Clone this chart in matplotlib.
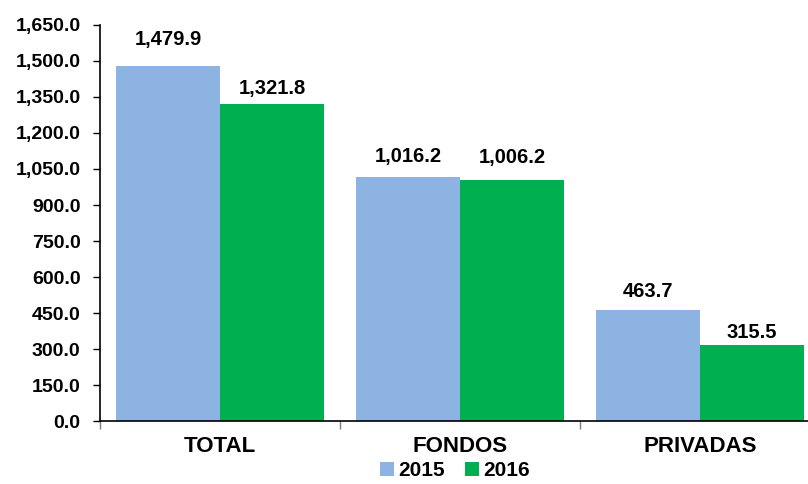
import matplotlib

matplotlib.use("Agg")
import matplotlib.pyplot as plt
from matplotlib.ticker import FuncFormatter, FixedLocator
import numpy as np

categories = ["TOTAL", "FONDOS", "PRIVADAS"]
series_names = ["2015", "2016"]
values_2015 = [1479.9, 1016.2, 463.7]
values_2016 = [1321.8, 1006.2, 315.5]
y_ticks = [0, 150, 300, 450, 600, 750, 900, 1050, 1200, 1350, 1500, 1650]

colors = ["#8DB3E2", "#00B050"]
# label gap above bar top (pixels)
label_gaps = [[21, 15, 13], [10, 17, 7]]

plt.rcParams["font.family"] = ["Liberation Sans", "DejaVu Sans"]
plt.rcParams["font.weight"] = "bold"

fig = plt.figure(figsize=(8.08, 4.84), dpi=100)
ax = fig.add_axes([100 / 808, 63 / 484, 720 / 808, 396 / 484])

x = np.arange(len(categories))
width = 0.4333
series = [values_2015, values_2016]
for i, (vals, name) in enumerate(zip(series, series_names)):
    pos = x + (i - 0.5) * width
    bars = ax.bar(pos, vals, width=width, color=colors[i], label=name, zorder=2)
    for b, v, gap in zip(bars, vals, label_gaps[i]):
        ax.annotate(f"{v:,.1f}", (b.get_x() + b.get_width() / 2, v),
                    xytext=(0, gap), textcoords="offset pixels",
                    ha="center", va="baseline", fontsize=14.5, fontweight="bold")

ax.set_xlim(-0.5, 2.5)
ax.set_ylim(0, 1650)
ax.set_yticks(y_ticks)
ax.yaxis.set_major_formatter(FuncFormatter(lambda v, _: f"{v:,.1f}"))
ax.tick_params(axis="y", direction="out", length=5, width=1, pad=9, labelsize=14)

ax.set_xticks(x)
ax.set_xticklabels(categories, fontsize=16, fontweight="bold")
ax.tick_params(axis="x", which="major", length=0, pad=11)
ax.xaxis.set_minor_locator(FixedLocator([-0.5, 0.5, 1.5, 2.5]))
ax.tick_params(axis="x", which="minor", direction="out", length=6, width=1, color="#7f7f7f")

for s in ["top", "right"]:
    ax.spines[s].set_visible(False)
ax.spines["left"].set_linewidth(1.2)
ax.spines["bottom"].set_linewidth(1.2)

fig.legend(loc="center", bbox_to_anchor=(455 / 808, 13 / 484), ncol=2, frameon=False,
           handlelength=0.65, handleheight=0.65, handletextpad=0.2,
           columnspacing=1.0, borderaxespad=0, prop={"weight": "bold", "size": 15})

fig.savefig("out.png", dpi=100)
